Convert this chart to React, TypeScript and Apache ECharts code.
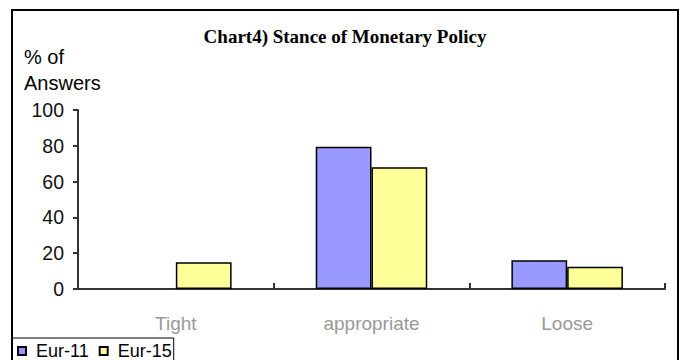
import React, { useEffect, useRef } from "react";
import * as echarts from "echarts";

const categories = ["Tight", "appropriate", "Loose"];
const eur11 = [0, 79.5, 16];
const eur15 = [15, 68, 12.5];
const seriesNames = ["Eur-11", "Eur-15"];
const titleText = "Chart4) Stance of Monetary Policy";
const yLabelLines = ["% of", "Answers"];

const toData = (arr: number[]) =>
  arr.map((v) => (v === 0 ? { value: v, itemStyle: { borderWidth: 0 } } : v));

export default function App() {
  const ref = useRef<HTMLDivElement>(null);
  useEffect(() => {
    if (!ref.current) return;
    const chart = echarts.init(ref.current, undefined, { renderer: "svg" });
    const sans = "'Liberation Sans', Arial, sans-serif";
    chart.setOption({
      animation: false,
      backgroundColor: "#fff",
      textStyle: { fontFamily: sans },
      grid: { left: 78, right: 16, top: 110, bottom: 71, containLabel: false },
      graphic: [
        {
          type: "rect",
          shape: { x: 12, y: 10, width: 666, height: 370 },
          style: { fill: "none", stroke: "#000", lineWidth: 2 },
          silent: true,
        },
        {
          type: "text",
          x: 345,
          y: 36,
          style: {
            text: titleText,
            font: "bold 19px 'Liberation Serif', 'Times New Roman', serif",
            fill: "#000",
            align: "center",
            verticalAlign: "middle",
          },
        },
        {
          type: "text",
          x: 24,
          y: 57,
          style: {
            text: yLabelLines[0],
            font: `20px ${sans}`,
            fill: "#000",
            align: "left",
            verticalAlign: "middle",
          },
        },
        {
          type: "text",
          x: 24,
          y: 83,
          style: {
            text: yLabelLines[1],
            font: `20px ${sans}`,
            fill: "#000",
            align: "left",
            verticalAlign: "middle",
          },
        },
      ],
      legend: {
        left: 12,
        top: 338,
        orient: "horizontal",
        data: seriesNames,
        icon: "rect",
        itemWidth: 8,
        itemHeight: 8,
        itemGap: 10,
        borderColor: "#000",
        borderWidth: 1,
        padding: [4, 2, 6, 5],
        textStyle: { fontSize: 18, color: "#000", fontFamily: sans, padding: [3, 0, 0, 5] },
      },
      xAxis: {
        type: "category",
        data: categories,
        axisLine: { show: true, lineStyle: { color: "#333", width: 2 } },
        axisTick: { show: true, inside: true, length: 6, lineStyle: { color: "#333", width: 2 } },
        axisLabel: { color: "#999", fontSize: 19, margin: 25, fontFamily: sans },
        splitLine: { show: false },
      },
      yAxis: {
        type: "value",
        min: 0,
        max: 100,
        interval: 20,
        axisLine: { show: true, lineStyle: { color: "#333", width: 2 } },
        axisTick: { show: true, length: 5, lineStyle: { color: "#333", width: 2 } },
        axisLabel: { color: "#111", fontSize: 19.5, margin: 14, fontFamily: sans },
        splitLine: { show: false },
      },
      series: [
        {
          name: seriesNames[0],
          type: "bar",
          data: toData(eur11),
          barGap: "0%",
          barCategoryGap: "43%",
          itemStyle: { color: "#9999FF", borderColor: "#000", borderWidth: 1.5 },
        },
        {
          name: seriesNames[1],
          type: "bar",
          data: toData(eur15),
          barGap: "0%",
          barCategoryGap: "43%",
          itemStyle: { color: "#FFFF99", borderColor: "#000", borderWidth: 1.5 },
        },
      ],
    });
    return () => chart.dispose();
  }, []);
  return (
    <div
      ref={ref}
      style={{ position: "fixed", left: 0, top: 0, width: 681, height: 360 }}
    />
  );
}
